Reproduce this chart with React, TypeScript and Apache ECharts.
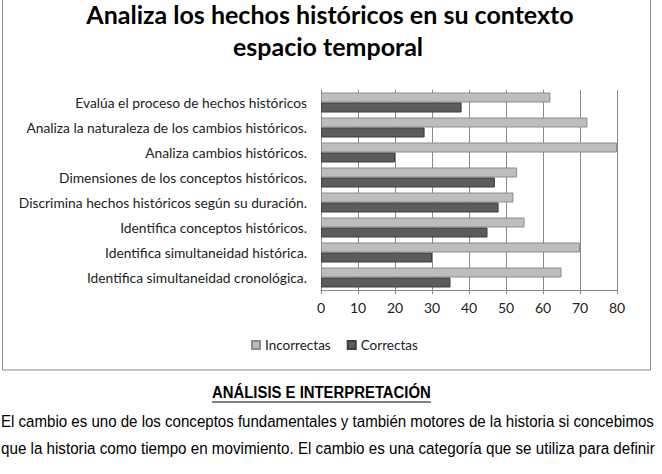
import React, { useEffect, useRef } from "react";
import * as echarts from "echarts";

const categories = [
  "Identifica simultaneidad cronológica.",
  "Identifica simultaneidad histórica.",
  "Identifica conceptos históricos.",
  "Discrimina hechos históricos según su duración.",
  "Dimensiones de los conceptos históricos.",
  "Analiza cambios históricos.",
  "Analiza la naturaleza de los cambios históricos.",
  "Evalúa el proceso de hechos históricos",
];
const incorrectas = [65, 70, 55, 52, 53, 80, 72, 62];
const correctas = [35, 30, 45, 48, 47, 20, 28, 38];
const seriesNames = ["Incorrectas", "Correctas"];
const titleLines = ["Analiza los hechos históricos en su contexto", "espacio temporal"];
const heading = "ANÁLISIS E INTERPRETACIÓN";
const paragraph = [
  "El cambio es uno de los conceptos fundamentales y también motores de la historia si concebimos",
  "que la historia como tiempo en movimiento. El cambio es una categoría que se utiliza para definir",
];

const FONT = "Lato, 'Open Sans', sans-serif";
const ARIAL = "'Liberation Sans', Arial, sans-serif";

function measure(text: string, font: string): number {
  const ctx = document.createElement("canvas").getContext("2d");
  if (!ctx) return 1;
  ctx.font = font;
  return ctx.measureText(text).width || 1;
}

export default function App() {
  const ref = useRef<HTMLDivElement>(null);
  useEffect(() => {
    if (!ref.current) return;
    const chart = echarts.init(ref.current, null, { renderer: "svg" });
    const headFont = `bold 17px ${ARIAL}`;
    const paraFont = `17px ${ARIAL}`;
    const headScale = 219 / measure(heading, headFont);
    const p0Scale = 654 / measure(paragraph[0], paraFont);
    const p1Scale = 654 / measure(paragraph[1], paraFont);
    chart.setOption({
      animation: false,
      backgroundColor: "#ffffff",
      legend: {
        data: seriesNames,
        left: 246,
        top: 333,
        icon: "rect",
        itemWidth: 8,
        itemHeight: 8,
        itemGap: 16,
        textStyle: { fontFamily: FONT, fontSize: 13.5, color: "#222" },
      },
      grid: { left: 321, right: 45, top: 90, bottom: 184, containLabel: false },
      xAxis: {
        type: "value",
        min: 0,
        max: 80,
        interval: 10,
        axisLine: { show: true, lineStyle: { color: "#888" } },
        axisTick: { show: true, length: 4, lineStyle: { color: "#888" } },
        axisLabel: { fontFamily: FONT, fontSize: 14, color: "#222", margin: 10 },
        splitLine: { show: true, lineStyle: { color: "#8a8a8a", width: 1 } },
      },
      yAxis: {
        type: "category",
        data: categories,
        axisLine: { show: true, lineStyle: { color: "#888" } },
        axisTick: { show: false },
        axisLabel: { fontFamily: FONT, fontSize: 13.8, color: "#222", margin: 14 },
      },
      series: [
        {
          name: "Incorrectas",
          type: "bar",
          data: incorrectas,
          barWidth: 10,
          barGap: "0%",
          itemStyle: { color: "#bdbdbd", borderColor: "#8c8c8c", borderWidth: 1 },
          z: 2,
        },
        {
          name: "Correctas",
          type: "bar",
          data: correctas,
          barWidth: 10,
          barGap: "0%",
          itemStyle: { color: "#5c5c5c", borderColor: "#3e3e3e", borderWidth: 1 },
          z: 2,
        },
      ],
      graphic: [
        {
          type: "rect",
          shape: { x: 2.5, y: -2, width: 648, height: 372 },
          style: { fill: "none", stroke: "#8a8a8a", lineWidth: 1 },
          z: -1,
        },
        {
          type: "text",
          x: 330,
          y: 14,
          style: {
            text: titleLines[0],
            font: `bold 25px ${FONT}`,
            fill: "#000",
            textAlign: "center",
            textVerticalAlign: "middle",
          },
        },
        {
          type: "text",
          x: 328,
          y: 46,
          style: {
            text: titleLines[1],
            font: `bold 25px ${FONT}`,
            fill: "#000",
            textAlign: "center",
            textVerticalAlign: "middle",
          },
        },
        {
          type: "text",
          x: 212,
          y: 392,
          scaleX: headScale,
          style: {
            text: heading,
            font: headFont,
            fill: "#000",
            textAlign: "left",
            textVerticalAlign: "middle",
          },
        },
        {
          type: "line",
          shape: { x1: 212, y1: 402, x2: 431, y2: 402 },
          style: { stroke: "#000", lineWidth: 1 },
        },
        {
          type: "text",
          x: 1,
          y: 421,
          scaleX: p0Scale,
          style: {
            text: paragraph[0],
            font: paraFont,
            fill: "#000",
            textAlign: "left",
            textVerticalAlign: "middle",
          },
        },
        {
          type: "text",
          x: 1,
          y: 448,
          scaleX: p1Scale,
          style: {
            text: paragraph[1],
            font: paraFont,
            fill: "#000",
            textAlign: "left",
            textVerticalAlign: "middle",
          },
        },
      ],
    });
    return () => chart.dispose();
  }, []);
  return (
    <div
      ref={ref}
      style={{ position: "fixed", left: 0, top: 0, width: 662, height: 474 }}
    />
  );
}
